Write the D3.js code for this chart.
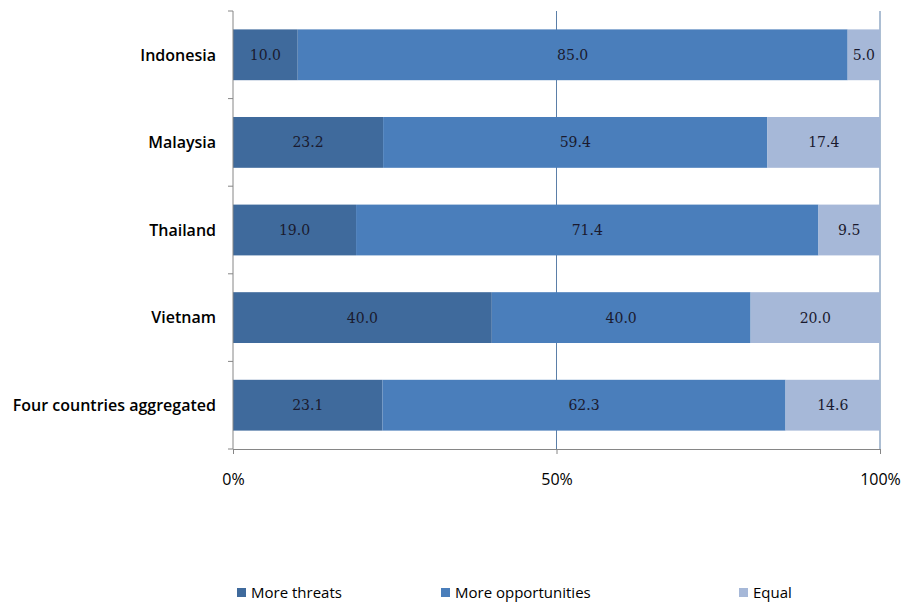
<!DOCTYPE html>
<html>
<head>
<meta charset="utf-8">
<script src="https://cdn.jsdelivr.net/npm/d3@7"></script>
<style>
  body { margin: 0; background: #fff; }
  text { font-family: "Open Sans", "Liberation Sans", sans-serif; }
</style>
</head>
<body>
<div class="container"></div>
<script>
var countries = ['Indonesia', 'Malaysia', 'Thailand', 'Vietnam', 'Four countries aggregated'];
var seriesNames = ['More threats', 'More opportunities', 'Equal'];
var threats = [10.0, 23.2, 19.0, 40.0, 23.1];
var opportunities = [85.0, 59.4, 71.4, 40.0, 62.3];
var equal = [5.0, 17.4, 9.5, 20.0, 14.6];
var tickValues = [0, 0.5, 1];
var colors = ['#3f6a9c', '#4a7ebb', '#a6b8d8'];

var WIDTH = 904, HEIGHT = 603;
var plotLeft = 233, plotRight = 880, plotTop = 11, plotBottom = 449;

var svg = d3.select('.container').append('svg')
    .attr('width', WIDTH)
    .attr('height', HEIGHT);

var rows = countries.map(function (c, i) {
    return {country: c, values: [threats[i], opportunities[i], equal[i]]};
});

var xScale = d3.scaleLinear().domain([0, 1]).range([plotLeft, plotRight]);
var yScale = d3.scaleBand().domain(countries).range([plotTop, plotBottom])
    .paddingInner(0.42).paddingOuter(0.21);

// gridlines at 50% and 100%
svg.append('g').selectAll('line')
    .data(tickValues.slice(1))
    .enter().append('line')
    .attr('x1', function (d) { return xScale(d); })
    .attr('x2', function (d) { return xScale(d); })
    .attr('y1', plotTop).attr('y2', plotBottom)
    .attr('stroke', '#5b7fa8').attr('stroke-width', 1);

// stacked segments
var segs = [];
rows.forEach(function (r) {
    var total = d3.sum(r.values), acc = 0;
    r.values.forEach(function (v, k) {
        segs.push({country: r.country, k: k, v: v, x0: acc / total, x1: (acc + v) / total});
        acc += v;
    });
});

svg.append('g').selectAll('rect')
    .data(segs)
    .enter().append('rect')
    .attr('x', function (d) { return xScale(d.x0); })
    .attr('width', function (d) { return xScale(d.x1) - xScale(d.x0); })
    .attr('y', function (d) { return yScale(d.country); })
    .attr('height', yScale.bandwidth())
    .attr('fill', function (d) { return colors[d.k]; });

svg.append('g').selectAll('text')
    .data(segs)
    .enter().append('text')
    .attr('x', function (d) { return (xScale(d.x0) + xScale(d.x1)) / 2; })
    .attr('y', function (d) { return yScale(d.country) + yScale.bandwidth() / 2; })
    .attr('dy', '0.36em')
    .attr('text-anchor', 'middle')
    .style('font-family', '"DejaVu Serif", "Liberation Serif", serif')
    .style('font-size', '14px')
    .attr('fill', '#1a1a2e')
    .text(function (d) { return d.v.toFixed(1); });

// x axis
var xAxis = svg.append('g')
    .attr('transform', 'translate(0,' + plotBottom + ')')
    .call(d3.axisBottom(xScale).tickValues(tickValues).tickFormat(d3.format('.0%')).tickSize(5).tickPadding(20));
xAxis.select('.domain').attr('stroke', '#868686');
xAxis.selectAll('line').attr('stroke', '#868686');
xAxis.selectAll('text').style('font-size', '16px').attr('fill', '#000');

// y axis
var yTicks = countries.map(function (c) { return yScale(c) - yScale.step() * yScale.paddingInner() / 2; });
yTicks.push(plotBottom);
var yAxis = svg.append('g');
yAxis.append('line')
    .attr('x1', plotLeft).attr('x2', plotLeft).attr('y1', plotTop).attr('y2', plotBottom)
    .attr('stroke', '#868686');
yAxis.selectAll('.tick')
    .data(yTicks)
    .enter().append('line')
    .attr('x1', plotLeft - 5).attr('x2', plotLeft)
    .attr('y1', function (d) { return d; }).attr('y2', function (d) { return d; })
    .attr('stroke', '#868686');
yAxis.selectAll('text')
    .data(countries)
    .enter().append('text')
    .attr('x', plotLeft - 17)
    .attr('y', function (d) { return yScale(d) + yScale.bandwidth() / 2; })
    .attr('dy', '0.36em')
    .attr('text-anchor', 'end')
    .style('font-size', '16px')
    .style('font-weight', '600')
    .attr('fill', '#000')
    .text(function (d) { return d; });

// legend
var legendX = [237, 441, 739];
var legend = svg.append('g').selectAll('g')
    .data(seriesNames)
    .enter().append('g')
    .attr('transform', function (d, i) { return 'translate(' + legendX[i] + ',588)'; });
legend.append('rect')
    .attr('width', 9).attr('height', 9)
    .attr('fill', function (d, i) { return colors[i]; });
legend.append('text')
    .attr('x', 14).attr('y', 5)
    .attr('dy', '0.36em')
    .style('font-size', '15px')
    .attr('fill', '#000')
    .text(function (d) { return d; });
</script>
</body>
</html>
